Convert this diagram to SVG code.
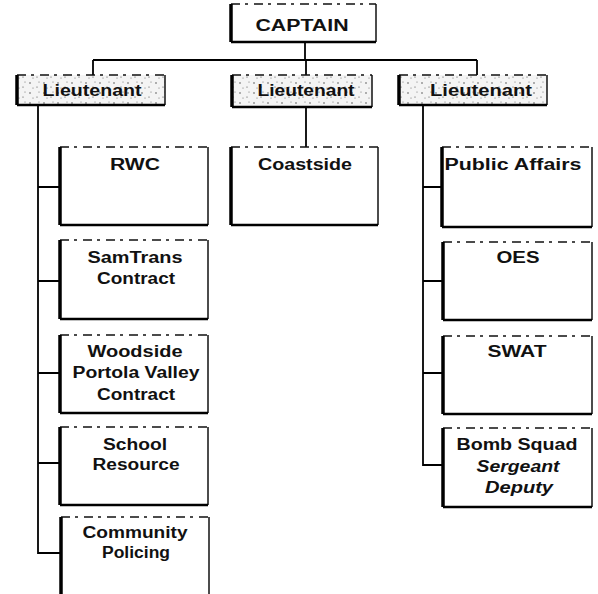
<svg xmlns="http://www.w3.org/2000/svg" width="598" height="594" viewBox="0 0 598 594">
<defs>
<pattern id="stip" width="14" height="10" patternUnits="userSpaceOnUse">
<rect width="14" height="10" fill="#f4f4f4"/>
<circle cx="2" cy="3" r="0.7" fill="#333"/>
<circle cx="9" cy="7" r="0.6" fill="#444"/>
<circle cx="11" cy="2" r="0.5" fill="#555"/>
<circle cx="5" cy="8" r="0.5" fill="#555"/>
</pattern>
</defs>
<style>
.t{font-family:"Liberation Sans",Arial,sans-serif;font-weight:bold;font-size:16px;fill:#111;text-anchor:middle}
.i{font-style:italic}
.bg{fill:#fff;stroke:none}
.top{stroke:#111;stroke-width:1.5;stroke-dasharray:9 5 3 6;fill:none}
.lft{stroke:#000;stroke-width:3.5;fill:none}
.rgt{stroke:#111;stroke-width:1.5;fill:none}
.bot{stroke:#000;stroke-width:2.5;fill:none}
.c{stroke:#000;stroke-width:1.8;fill:none}
</style>
<g id="connectors">
<path class="c" d="M305 43 V60 M93 60 H477 M93 60 V75 M306 60 V75 M477 60 V75"/>
<path class="c" d="M38 105 V553 H60 M38 187 H60 M38 281 H60 M38 373 H60 M38 463 H60"/>
<path class="c" d="M306 108 V147"/>
<path class="c" d="M423 105 V465 H442 M423 187 H442 M423 281 H442 M423 373 H442"/>
</g>
<g id="captain">
<rect class="bg" x="231" y="4" width="145" height="38"/>
<path class="top" d="M231 4 H376"/><path class="lft" d="M231 4 V42"/><path class="rgt" d="M376 4 V42"/><path class="bot" d="M231 42 H376"/>
<text class="t" x="302" y="31" font-size="18" textLength="93" lengthAdjust="spacingAndGlyphs">CAPTAIN</text>
</g>
<g id="lt-left">
<rect x="17" y="75" width="148" height="30" fill="url(#stip)"/>
<path class="top" d="M17 75 H165"/><path class="lft" d="M17 75 V105"/><path class="rgt" d="M165 75 V105"/><path class="bot" d="M17 105 H165"/>
<text class="t" x="92" y="96" textLength="99" lengthAdjust="spacingAndGlyphs">Lieutenant</text>
</g>
<g id="lt-center">
<rect x="232" y="75" width="140" height="32" fill="url(#stip)"/>
<path class="top" d="M232 75 H372"/><path class="lft" d="M232 75 V107"/><path class="rgt" d="M372 75 V107"/><path class="bot" d="M232 107 H372"/>
<text class="t" x="306" y="96" textLength="97" lengthAdjust="spacingAndGlyphs">Lieutenant</text>
</g>
<g id="lt-right">
<rect x="399" y="75" width="148" height="30" fill="url(#stip)"/>
<path class="top" d="M399 75 H547"/><path class="lft" d="M399 75 V105"/><path class="rgt" d="M547 75 V105"/><path class="bot" d="M399 105 H547"/>
<text class="t" x="481" y="96" textLength="102" lengthAdjust="spacingAndGlyphs">Lieutenant</text>
</g>
<g id="rwc">
<rect class="bg" x="60" y="147" width="148" height="78"/>
<path class="top" d="M60 147 H208"/><path class="lft" d="M60 147 V225"/><path class="rgt" d="M208 147 V225"/><path class="bot" d="M60 225 H208"/>
<text class="t" x="135" y="170" textLength="50" lengthAdjust="spacingAndGlyphs">RWC</text>
</g>
<g id="samtrans">
<rect class="bg" x="60" y="240" width="148" height="79"/>
<path class="top" d="M60 240 H208"/><path class="lft" d="M60 240 V319"/><path class="rgt" d="M208 240 V319"/><path class="bot" d="M60 319 H208"/>
<text class="t" x="135" y="263" textLength="95" lengthAdjust="spacingAndGlyphs">SamTrans</text>
<text class="t" x="136" y="284" textLength="78" lengthAdjust="spacingAndGlyphs">Contract</text>
</g>
<g id="woodside">
<rect class="bg" x="60" y="335" width="148" height="78"/>
<path class="top" d="M60 335 H208"/><path class="lft" d="M60 335 V413"/><path class="rgt" d="M208 335 V413"/><path class="bot" d="M60 413 H208"/>
<text class="t" x="135" y="357" textLength="95" lengthAdjust="spacingAndGlyphs">Woodside</text>
<text class="t" x="136" y="378" textLength="127" lengthAdjust="spacingAndGlyphs">Portola Valley</text>
<text class="t" x="136" y="400" textLength="78" lengthAdjust="spacingAndGlyphs">Contract</text>
</g>
<g id="school">
<rect class="bg" x="60" y="427" width="148" height="78"/>
<path class="top" d="M60 427 H208"/><path class="lft" d="M60 427 V505"/><path class="rgt" d="M208 427 V505"/><path class="bot" d="M60 505 H208"/>
<text class="t" x="135" y="450" textLength="64" lengthAdjust="spacingAndGlyphs">School</text>
<text class="t" x="136" y="470" textLength="87" lengthAdjust="spacingAndGlyphs">Resource</text>
</g>
<g id="community">
<rect class="bg" x="61" y="517" width="148" height="77"/>
<path class="top" d="M61 517 H209"/><path class="lft" d="M61 517 V594"/><path class="rgt" d="M209 517 V594"/>
<text class="t" x="135" y="538" textLength="105" lengthAdjust="spacingAndGlyphs">Community</text>
<text class="t" x="136" y="558" textLength="68" lengthAdjust="spacingAndGlyphs">Policing</text>
</g>
<g id="coastside">
<rect class="bg" x="231" y="147" width="147" height="78"/>
<path class="top" d="M231 147 H378"/><path class="lft" d="M231 147 V225"/><path class="rgt" d="M378 147 V225"/><path class="bot" d="M231 225 H378"/>
<text class="t" x="305" y="170" textLength="94" lengthAdjust="spacingAndGlyphs">Coastside</text>
</g>
<g id="public-affairs">
<rect class="bg" x="442" y="147" width="150" height="80"/>
<path class="top" d="M442 147 H592"/><path class="lft" d="M442 147 V227"/><path class="rgt" d="M592 147 V227"/><path class="bot" d="M442 227 H592"/>
<text class="t" x="513" y="170" textLength="137" lengthAdjust="spacingAndGlyphs">Public Affairs</text>
</g>
<g id="oes">
<rect class="bg" x="443" y="242" width="149" height="78"/>
<path class="top" d="M443 242 H592"/><path class="lft" d="M443 242 V320"/><path class="rgt" d="M592 242 V320"/><path class="bot" d="M443 320 H592"/>
<text class="t" x="518" y="263" textLength="43" lengthAdjust="spacingAndGlyphs">OES</text>
</g>
<g id="swat">
<rect class="bg" x="443" y="336" width="149" height="78"/>
<path class="top" d="M443 336 H592"/><path class="lft" d="M443 336 V414"/><path class="rgt" d="M592 336 V414"/><path class="bot" d="M443 414 H592"/>
<text class="t" x="517" y="357" textLength="59" lengthAdjust="spacingAndGlyphs">SWAT</text>
</g>
<g id="bomb-squad">
<rect class="bg" x="443" y="428" width="149" height="79"/>
<path class="top" d="M443 428 H592"/><path class="lft" d="M443 428 V507"/><path class="rgt" d="M592 428 V507"/><path class="bot" d="M443 507 H592"/>
<text class="t" x="517" y="450" textLength="121" lengthAdjust="spacingAndGlyphs">Bomb Squad</text>
<text class="t i" x="518" y="472" textLength="83" lengthAdjust="spacingAndGlyphs">Sergeant</text>
<text class="t i" x="519" y="493" textLength="68" lengthAdjust="spacingAndGlyphs">Deputy</text>
</g>
</svg>
